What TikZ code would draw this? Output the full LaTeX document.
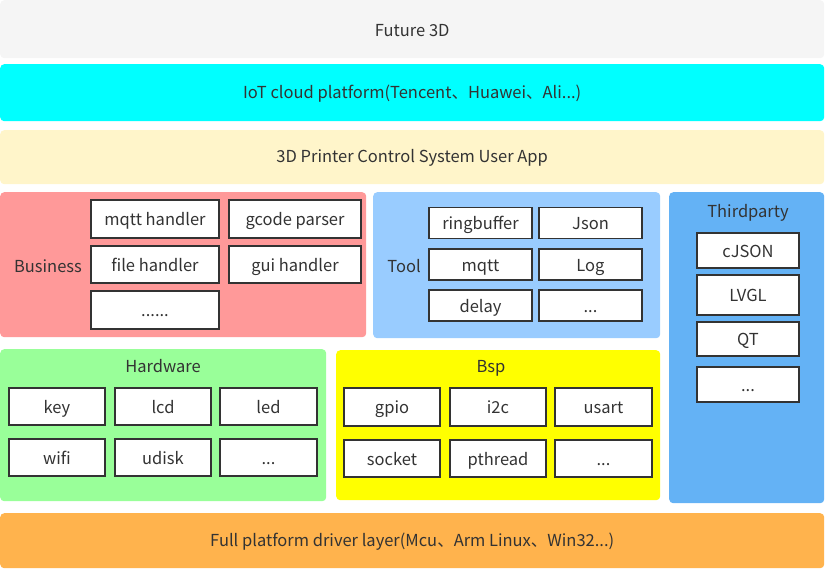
\documentclass[tikz,border=0pt]{standalone}
\usepackage{fontspec}
\setmainfont{Noto Sans CJK SC}
\definecolor{futuregray}{HTML}{F5F5F5}
\definecolor{iotcyan}{HTML}{00FFFF}
\definecolor{appyellow}{HTML}{FFF5CA}
\definecolor{busred}{HTML}{FF9999}
\definecolor{toolblue}{HTML}{99CCFF}
\definecolor{thirdblue}{HTML}{64B2F5}
\definecolor{hwgreen}{HTML}{99FF99}
\definecolor{bspyellow}{HTML}{FFFF00}
\definecolor{drvorange}{HTML}{FFB34D}
\definecolor{boxline}{HTML}{333333}
\definecolor{txt}{HTML}{333333}
\tikzset{
  panel/.style={anchor=north west, rounded corners=4pt, inner sep=0pt, draw=none},
  itembox/.style={draw=boxline, line width=1.6pt, fill=white, inner sep=0pt,
    text height=13pt, text depth=0pt,
    text=txt, font=\fontsize{16.5}{18}\selectfont},
  title/.style={text=txt, font=\fontsize{16.5}{18}\selectfont, inner sep=1pt},
}
\begin{document}
\begin{tikzpicture}[x=1pt, y=-1pt]
  \useasboundingbox (0,0) rectangle (826,568);
  % layers
  \node[panel, fill=futuregray, minimum width=824pt, minimum height=58pt] (future) at (0,0) {};
  \node[panel, fill=iotcyan, minimum width=824pt, minimum height=57pt] (iot) at (0,64) {};
  \node[panel, fill=appyellow, minimum width=824pt, minimum height=54pt] (app) at (0,130) {};
  \node[panel, fill=busred, minimum width=366pt, minimum height=145pt] (business) at (0,192) {};
  \node[panel, fill=toolblue, minimum width=287pt, minimum height=146pt] (tool) at (373,192) {};
  \node[panel, fill=thirdblue, minimum width=155pt, minimum height=311pt] (third) at (669,192) {};
  \node[panel, fill=hwgreen, minimum width=326pt, minimum height=152pt] (hardware) at (0,349) {};
  \node[panel, fill=bspyellow, minimum width=324pt, minimum height=150pt] (bsp) at (336,350) {};
  \node[panel, fill=drvorange, minimum width=824pt, minimum height=55pt] (driver) at (0,513) {};
  % titles
  \node[title] (futuret) at ([yshift=-1pt]future.center) {Future 3D};
  \node[title] (iott) at ([yshift=-1pt]iot.center) {IoT cloud platform(Tencent、Huawei、Ali...)};
  \node[title] (appt) at ([yshift=-1pt]app.center) {3D Printer Control System User App};
  \node[title] (businesst) at (48,266) {Business};
  \node[title] (toolt) at (404,266) {Tool};
  \node[title] (thirdt) at (748,213) {Thirdparty};
  \node[title] (hardwaret) at (163,366) {Hardware};
  \node[title] (bspt) at (491,368) {Bsp};
  \node[title] (drivert) at ([yshift=-1pt]driver.center) {Full platform driver layer(Mcu、Arm Linux、Win32...)};
  % Business
  \node[itembox, minimum width=128pt, minimum height=38pt] (mqtth) at (155,219) {mqtt handler};
  \node[itembox, minimum width=132pt, minimum height=38pt] (gcode) at (295,219) {gcode parser};
  \node[itembox, minimum width=128pt, minimum height=37pt] (fileh) at (155,264.5) {file handler};
  \node[itembox, minimum width=132pt, minimum height=37pt] (guih) at (295,264.5) {gui handler};
  \node[itembox, minimum width=128pt, minimum height=38pt] (busmore) at (155,310) {......};
  % Tool
  \node[itembox, minimum width=103pt, minimum height=31pt] (ring) at (480.5,223) {ringbuffer};
  \node[itembox, minimum width=103pt, minimum height=31pt] (json) at (590.5,223) {Json};
  \node[itembox, minimum width=103pt, minimum height=31pt] (mqtt) at (480.5,264.5) {mqtt};
  \node[itembox, minimum width=103pt, minimum height=31pt] (log) at (590.5,264.5) {Log};
  \node[itembox, minimum width=103pt, minimum height=31pt] (delay) at (480.5,305.5) {delay};
  \node[itembox, minimum width=103pt, minimum height=31pt] (toolmore) at (590.5,305.5) {...};
  % Thirdparty
  \node[itembox, minimum width=102pt, minimum height=35pt] (cjson) at (748,250.5) {cJSON};
  \node[itembox, minimum width=102pt, minimum height=40pt] (lvgl) at (748,295) {LVGL};
  \node[itembox, minimum width=102pt, minimum height=34pt] (qt) at (748,339) {QT};
  \node[itembox, minimum width=102pt, minimum height=35pt] (thirdmore) at (748,384.5) {...};
  % Hardware
  \node[itembox, minimum width=96pt, minimum height=37pt] (key) at (57,406.5) {key};
  \node[itembox, minimum width=96pt, minimum height=37pt] (lcd) at (163,406.5) {lcd};
  \node[itembox, minimum width=97pt, minimum height=37pt] (led) at (268.5,406.5) {led};
  \node[itembox, minimum width=96pt, minimum height=37pt] (wifi) at (57,457.5) {wifi};
  \node[itembox, minimum width=96pt, minimum height=37pt] (udisk) at (163,457.5) {udisk};
  \node[itembox, minimum width=97pt, minimum height=37pt] (hwmore) at (268.5,457.5) {...};
  % Bsp
  \node[itembox, minimum width=96pt, minimum height=38pt] (gpio) at (392,407) {gpio};
  \node[itembox, minimum width=96pt, minimum height=38pt] (i2c) at (498,407) {i2c};
  \node[itembox, minimum width=97pt, minimum height=38pt] (usart) at (603.5,407) {usart};
  \node[itembox, minimum width=96pt, minimum height=37pt] (socket) at (392,458.5) {socket};
  \node[itembox, minimum width=96pt, minimum height=37pt] (pthread) at (498,458.5) {pthread};
  \node[itembox, minimum width=97pt, minimum height=37pt] (bspmore) at (603.5,458.5) {...};
\end{tikzpicture}
\end{document}
